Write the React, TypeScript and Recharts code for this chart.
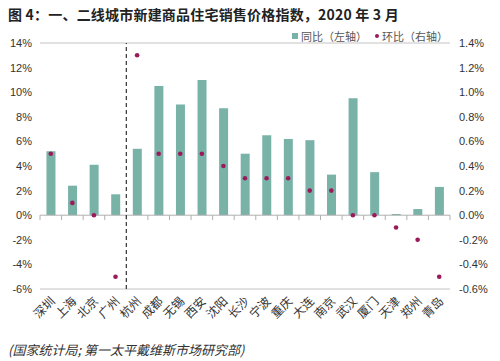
import React from 'react';
import { ComposedChart, Bar, Scatter, XAxis, YAxis, CartesianGrid, ReferenceLine } from 'recharts';

const cities = ['深圳', '上海', '北京', '广州', '杭州', '成都', '无锡', '西安', '沈阳', '长沙', '宁波', '重庆', '大连', '南京', '武汉', '厦门', '天津', '郑州', '青岛'];
const yoy = [5.2, 2.4, 4.1, 1.7, 5.4, 10.5, 9.0, 11.0, 8.7, 5.0, 6.5, 6.2, 6.1, 3.3, 9.5, 3.5, 0.1, 0.5, 2.3];
const mom = [0.5, 0.1, 0.0, -0.5, 1.3, 0.5, 0.5, 0.5, 0.4, 0.3, 0.3, 0.3, 0.2, 0.2, 0.0, 0.0, -0.1, -0.2, -0.5];
const leftTicks = [-6, -4, -2, 0, 2, 4, 6, 8, 10, 12, 14];
const rightTicks = [-0.6, -0.4, -0.2, 0, 0.2, 0.4, 0.6, 0.8, 1.0, 1.2, 1.4];
const dividerCity = '杭州';

const data = cities.map((c, i) => ({ city: c, yoy: yoy[i], mom: mom[i] }));

const BAR = '#79b3a8';
const DOT = '#9b1b5a';
const FONT = 'Arial, "Liberation Sans", "Noto Sans CJK SC", sans-serif';

const CityTick = (props: any) => {
  const { x, y, payload } = props;
  return (
    <text
      x={0}
      y={0}
      transform={`translate(${x + 5},${y + 5}) rotate(-45)`}
      textAnchor="end"
      fontSize={12}
      fill="#333"
      fontFamily='"Noto Sans CJK SC", sans-serif'
    >
      {payload.value}
    </text>
  );
};

const Dot = (props: any) => {
  const { cx, cy } = props;
  return <circle cx={cx} cy={cy} r={2.3} fill={DOT} />;
};

export default function App() {
  return (
    <div style={{ position: 'absolute', left: 0, top: 0, width: 500, height: 361, background: '#fff', fontFamily: FONT }}>
      <div style={{ position: 'absolute', left: 8, top: 4, fontSize: 14, fontWeight: 'bold', color: '#222', fontFamily: '"Noto Sans CJK SC", Arial, sans-serif', whiteSpace: 'nowrap', letterSpacing: 0.2 }}>
        图 4：一、二线城市新建商品住宅销售价格指数，2020 年 3 月
      </div>
      <div style={{ position: 'absolute', left: 292, top: 28, fontSize: 11, color: '#555', fontFamily: '"Noto Sans CJK SC", sans-serif', whiteSpace: 'nowrap', display: 'flex', alignItems: 'center' }}>
        <span style={{ display: 'inline-block', width: 6, height: 6, background: BAR, marginRight: 3 }} />
        <span>同比（左轴）</span>
        <span style={{ display: 'inline-block', width: 4, height: 4, borderRadius: 2, background: DOT, marginLeft: 8, marginRight: 3 }} />
        <span>环比（右轴）</span>
      </div>
      <ComposedChart
        width={500}
        height={361}
        data={data}
        margin={{ top: 43, right: 0, bottom: 22, left: 0 }}
        barCategoryGap="30%"
      >
        <CartesianGrid vertical={false} stroke="#c4c4c4" strokeWidth={1} />
        <XAxis
          dataKey="city"
          height={50}
          axisLine={false}
          tickLine={false}
          interval={0}
          tick={<CityTick />}
        />
        <YAxis
          yAxisId="left"
          domain={[-6, 14]}
          ticks={leftTicks}
          width={40}
          axisLine={false}
          tickLine={false}
          tickMargin={2}
          tickFormatter={(v: number) => `${v}%`}
          tick={{ fontSize: 11, fill: '#333', fontFamily: FONT }}
          interval={0}
        />
        <YAxis
          yAxisId="right"
          orientation="right"
          domain={[-0.6, 1.4]}
          ticks={rightTicks}
          width={50}
          axisLine={false}
          tickLine={false}
          tickMargin={3}
          tickFormatter={(v: number) => `${v.toFixed(1)}%`}
          tick={{ fontSize: 11, fill: '#333', fontFamily: FONT, textAnchor: 'start' }}
          interval={0}
        />
        <ReferenceLine yAxisId="left" y={0} stroke="#b0b0b0" strokeWidth={1} />
        {cities.map((c) => (
          <ReferenceLine
            key={'t' + c}
            yAxisId="left"
            position="start"
            segment={[{ x: c, y: 0 }, { x: c, y: -0.4 }]}
            stroke="#b0b0b0"
          />
        ))}
        <ReferenceLine
          yAxisId="left"
          position="end"
          segment={[{ x: cities[cities.length - 1], y: 0 }, { x: cities[cities.length - 1], y: -0.4 }]}
          stroke="#b0b0b0"
        />
        <Bar yAxisId="left" dataKey="yoy" fill={BAR} isAnimationActive={false} />
        <ReferenceLine yAxisId="left" x={dividerCity} position="start" stroke="#333" strokeDasharray="4 3" strokeWidth={1.2} />
        <Scatter yAxisId="right" dataKey="mom" fill={DOT} shape={<Dot />} isAnimationActive={false} />
      </ComposedChart>
      <div style={{ position: 'absolute', left: 8, top: 340, fontSize: 13, fontStyle: 'italic', color: '#333', fontFamily: '"Noto Sans CJK SC", sans-serif', whiteSpace: 'nowrap' }}>
        (国家统计局; 第一太平戴维斯市场研究部)
      </div>
    </div>
  );
}
